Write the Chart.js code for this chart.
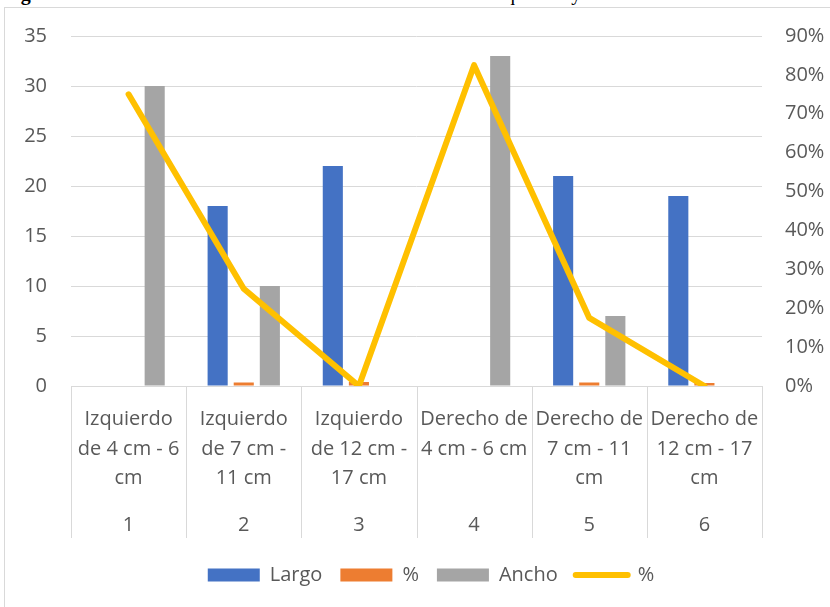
<!DOCTYPE html>
<html>
<head>
<meta charset="utf-8">
<script src="https://cdn.jsdelivr.net/npm/chart.js@4.4.1/dist/chart.umd.min.js"></script>
<style>
	html, body { margin: 0; padding: 0; background: #fff; overflow: hidden; width: 830px; height: 607px; }
	#title { position: absolute; left: 3px; top: -18px; line-height: 20px; font: 20px 'Liberation Serif', serif; color: #000; white-space: nowrap; }
	#title b { font-weight: bold; }
	#frame { position: absolute; left: 4px; top: 7px; width: 900px; height: 700px; border: 1px solid #d9d9d9; }
	#chart { position: absolute; left: 0; top: 0; }
</style>
</head>
<body>
<div id="title"><b>Figura 7</b> Clasificación de las medidas tomadas en los cortes izquierdo y derecho</div>
<div id="frame"></div>
<canvas id="chart" width="862" height="607"></canvas>
<script>
(function () {
	'use strict';

	/* ---------- Data ---------- */

	var categories = [
		['Izquierdo', 'de 4 cm - 6', 'cm'],
		['Izquierdo', 'de 7 cm -', '11 cm'],
		['Izquierdo', 'de 12 cm -', '17 cm'],
		['Derecho de', '4 cm - 6 cm'],
		['Derecho de', '7 cm - 11', 'cm'],
		['Derecho de', '12 cm - 17', 'cm'],
	];
	var groupLabels = ['1', '2', '3', '4', '5', '6'];

	var largo = [0, 18, 22, 0, 21, 19];
	var pctBar = [0, 0.35, 0.4, 0, 0.35, 0.3];
	var ancho = [30, 10, 0, 33, 7, 0];
	var pctLine = [0.75, 0.25, 0, 0.825, 0.175, 0];

	/* ---------- Style ---------- */

	var TEXT = '#595959';
	var GRID = '#d9d9d9';
	var FONT = "'Open Sans', 'Noto Sans', sans-serif";
	var LEVELS_HEIGHT = 152; // both label rows, under the plot

	// Vertical separators between categories, down through both label levels.
	var separators = {
		id: 'separators',
		afterDraw: function (chart) {
			var area = chart.chartArea;
			var bottom = area.bottom + LEVELS_HEIGHT;
			var n = categories.length;
			var step = (area.right - area.left) / n;
			var ctx = chart.ctx;
			ctx.save();
			ctx.strokeStyle = GRID;
			ctx.lineWidth = 1;
			ctx.beginPath();
			for (var i = 0; i <= n; i++) {
				var x = Math.round(area.left + i * step) + 0.5;
				ctx.moveTo(x, area.bottom);
				ctx.lineTo(x, bottom);
			}
			ctx.stroke();
			ctx.restore();
		},
	};

	new Chart(document.getElementById('chart'), {
		type: 'bar',
		data: {
			labels: categories,
			datasets: [
				{ label: 'Largo', data: largo, backgroundColor: '#4472C4', order: 1 },
				{ label: '%', data: pctBar, backgroundColor: '#ED7D31', order: 1 },
				{ label: 'Ancho', data: ancho, backgroundColor: '#A5A5A5', order: 1 },
				{
					type: 'line',
					label: '%',
					data: pctLine,
					yAxisID: 'y1',
					borderColor: '#FFC000',
					backgroundColor: '#FFC000',
					borderWidth: 6,
					borderJoinStyle: 'round',
					borderCapStyle: 'round',
					pointRadius: 0,
					tension: 0,
					order: 0,
				},
			],
		},
		options: {
			responsive: false,
			animation: false,
			devicePixelRatio: 1,
			categoryPercentage: 0.68,
			barPercentage: 0.77,
			layout: { padding: { top: 36, left: 0, right: 0, bottom: 12 } },
			font: { family: FONT },
			scales: {
				x: {
					type: 'category',
					grid: { display: false, drawTicks: false },
					border: { display: true, color: GRID, width: 1 },
					ticks: {
						color: TEXT,
						font: { family: FONT, size: 20, lineHeight: 1.475 },
						padding: 19,
						maxRotation: 0,
						autoSkip: false,
					},
					afterFit: function (scale) { scale.height = 115; },
				},
				x2: {
					type: 'category',
					position: 'bottom',
					weight: 1,
					labels: groupLabels,
					grid: { display: false, drawTicks: false },
					border: { display: false },
					ticks: {
						color: TEXT,
						font: { family: FONT, size: 20, lineHeight: 1.2 },
						padding: 12,
						maxRotation: 0,
						autoSkip: false,
					},
					afterFit: function (scale) { scale.height = 46; },
				},
				y: {
					min: 0,
					max: 35,
					ticks: { stepSize: 5, color: TEXT, font: { family: FONT, size: 20 }, padding: 24 },
					grid: { color: GRID, drawTicks: false },
					border: { display: false },
					afterFit: function (scale) { scale.width = 71; },
				},
				y1: {
					position: 'right',
					min: 0,
					max: 0.9,
					ticks: {
						stepSize: 0.1,
						color: TEXT,
						font: { family: FONT, size: 20 },
						padding: 23,
						callback: function (v) { return Math.round(v * 100) + '%'; },
					},
					grid: { drawOnChartArea: false, drawTicks: false },
					border: { display: false },
					afterFit: function (scale) { scale.width = 100; },
				},
			},
			plugins: {
				tooltip: { enabled: false },
				legend: {
					position: 'bottom',
					labels: {
						color: TEXT,
						font: { family: FONT, size: 20 },
						usePointStyle: true,
						pointStyleWidth: 52,
						boxHeight: 13,
						padding: 18,
						sort: function (a, b) { return a.datasetIndex - b.datasetIndex; },
						generateLabels: function (chart) {
							var items = Chart.defaults.plugins.legend.labels.generateLabels(chart);
							items.forEach(function (item) {
								var ds = chart.data.datasets[item.datasetIndex];
								if (ds.type === 'line') {
									item.pointStyle = 'line';
									item.lineWidth = 6;
									item.lineCap = 'round';
									item.strokeStyle = ds.borderColor;
								} else {
									item.pointStyle = 'rect';
									item.lineWidth = 0;
									item.fillStyle = ds.backgroundColor;
								}
							});
							return items;
						},
					},
				},
			},
		},
		plugins: [separators],
	});
})();
</script>
</body>
</html>
